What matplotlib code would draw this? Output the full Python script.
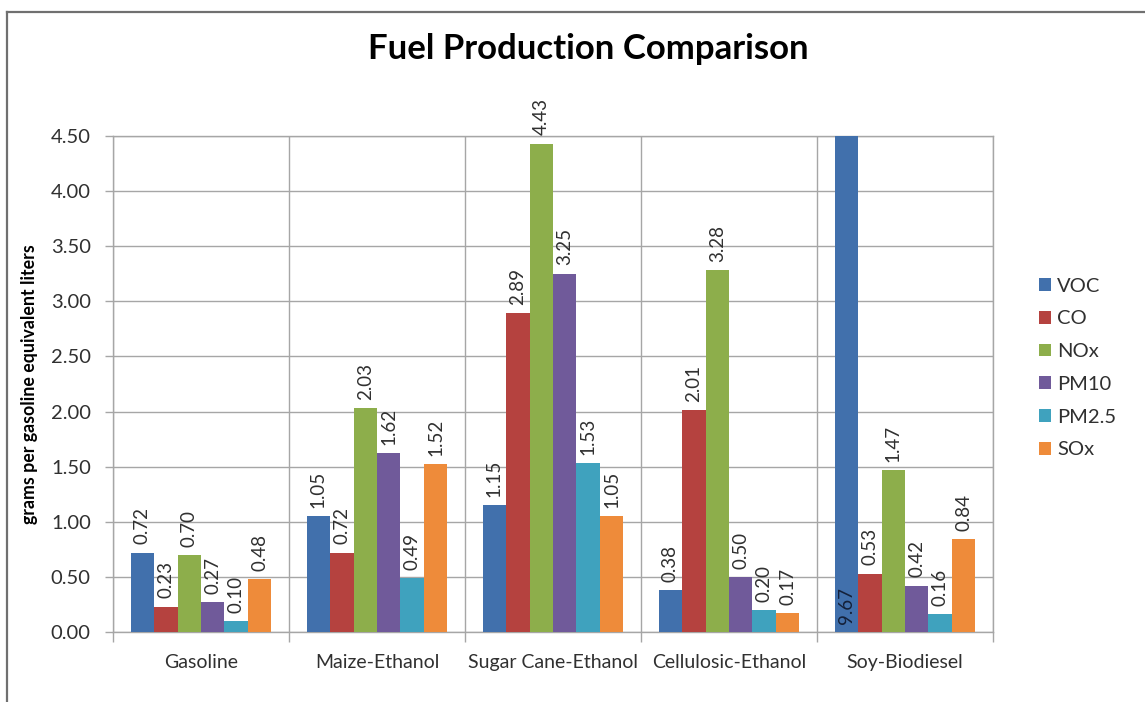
import matplotlib
matplotlib.use("Agg")
import matplotlib.pyplot as plt
from matplotlib.lines import Line2D
from matplotlib.ticker import FormatStrFormatter, FixedLocator
import numpy as np

plt.rcParams['font.family'] = ['Lato', 'DejaVu Sans']

categories = ["Gasoline", "Maize-Ethanol", "Sugar Cane-Ethanol",
              "Cellulosic-Ethanol", "Soy-Biodiesel"]
series_names = ["VOC", "CO", "NOx", "PM10", "PM2.5", "SOx"]
voc = [0.72, 1.05, 1.15, 0.38, 9.67]
co = [0.23, 0.72, 2.89, 2.01, 0.53]
nox = [0.70, 2.03, 4.43, 3.28, 1.47]
pm10 = [0.27, 1.62, 3.25, 0.50, 0.42]
pm25 = [0.10, 0.49, 1.53, 0.20, 0.16]
sox = [0.48, 1.52, 1.05, 0.17, 0.84]
series_values = [voc, co, nox, pm10, pm25, sox]
colors = ["#4170AC", "#B5423F", "#8DAE4B", "#705A9A", "#3FA2BE", "#EE8B3A"]

y_max = 4.5
W, H = 1145, 702
fig = plt.figure(figsize=(W / 100, H / 100), dpi=100)
fig.patch.set_facecolor("white")

# outer chart frame (top and left edges)
fx = 7 / W
fy = 1 - 12 / H
fig.add_artist(Line2D([fx, 1.0], [fy, fy], transform=fig.transFigure,
                      color="#707070", lw=1.6))
fig.add_artist(Line2D([fx, fx], [0.0, fy], transform=fig.transFigure,
                      color="#707070", lw=1.6))

ax = fig.add_axes([113 / W, 1 - 632 / H, (993 - 113) / W, (632 - 136) / H])

n_series = len(series_names)
gap = 1.5
bar_w = 1.0 / (n_series + gap)
x = np.arange(len(categories))
grid_col = "#A6A6A6"
text_col = "#303030"
label_size = 13.5

for i, (name, vals, col) in enumerate(zip(series_names, series_values, colors)):
    offs = (i - (n_series - 1) / 2) * bar_w
    ax.bar(x + offs, vals, width=bar_w, color=col, label=name,
           zorder=3, linewidth=0)
    for xi, v in zip(x + offs, vals):
        txt = f"{v:.2f}"
        if v > y_max:
            # bar runs past the axis top: value sits inside, at the base
            ax.annotate(txt, (xi, 0), xytext=(0, 6), textcoords="offset points",
                        rotation=90, ha="center", va="bottom",
                        fontsize=label_size, color="#14213a", zorder=4)
        else:
            ax.annotate(txt, (xi, v), xytext=(0, 6), textcoords="offset points",
                        rotation=90, ha="center", va="bottom",
                        fontsize=label_size, color=text_col, zorder=4,
                        annotation_clip=False)

ax.set_xlim(-0.5, len(categories) - 0.5)
ax.set_ylim(0, y_max)
ax.set_yticks(np.arange(0, y_max + 0.001, 0.5))
ax.yaxis.set_major_formatter(FormatStrFormatter("%.2f"))

# category boundaries carry the tick marks and vertical grid lines
ax.xaxis.set_major_locator(FixedLocator(np.arange(len(categories) + 1) - 0.5))
ax.xaxis.set_minor_locator(FixedLocator(x))
ax.set_xticklabels([""] * (len(categories) + 1))
ax.set_xticklabels(categories, minor=True)
ax.tick_params(axis="x", which="major", length=7, color=grid_col, width=1.0)
ax.tick_params(axis="x", which="minor", length=0, pad=16, labelsize=14,
               labelcolor=text_col)
ax.tick_params(axis="y", length=6, color=grid_col, width=1.0, pad=10,
               labelsize=14.5, labelcolor=text_col)

ax.grid(True, which="major", axis="both", color=grid_col, lw=1.0, zorder=0)
ax.set_axisbelow(True)
for sp in ax.spines.values():
    sp.set_color(grid_col)
    sp.set_linewidth(1.0)

ax.set_ylabel("grams per gasoline equivalent liters", fontsize=12.8,
              fontweight="bold", color="black", labelpad=9)

fig.text(588 / W, 1 - 49 / H, "Fuel Production Comparison", ha="center",
         va="center", fontsize=25, fontweight="bold", color="black")

handles, labels = ax.get_legend_handles_labels()
fig.legend(handles, labels, loc="center left",
           bbox_to_anchor=(1029 / W, 1 - 368 / H), frameon=False,
           fontsize=14.5, handlelength=0.6, handleheight=0.6,
           handletextpad=0.3, labelspacing=0.78, borderpad=0,
           labelcolor=text_col)

fig.savefig("out.png", dpi=100, facecolor="white")
